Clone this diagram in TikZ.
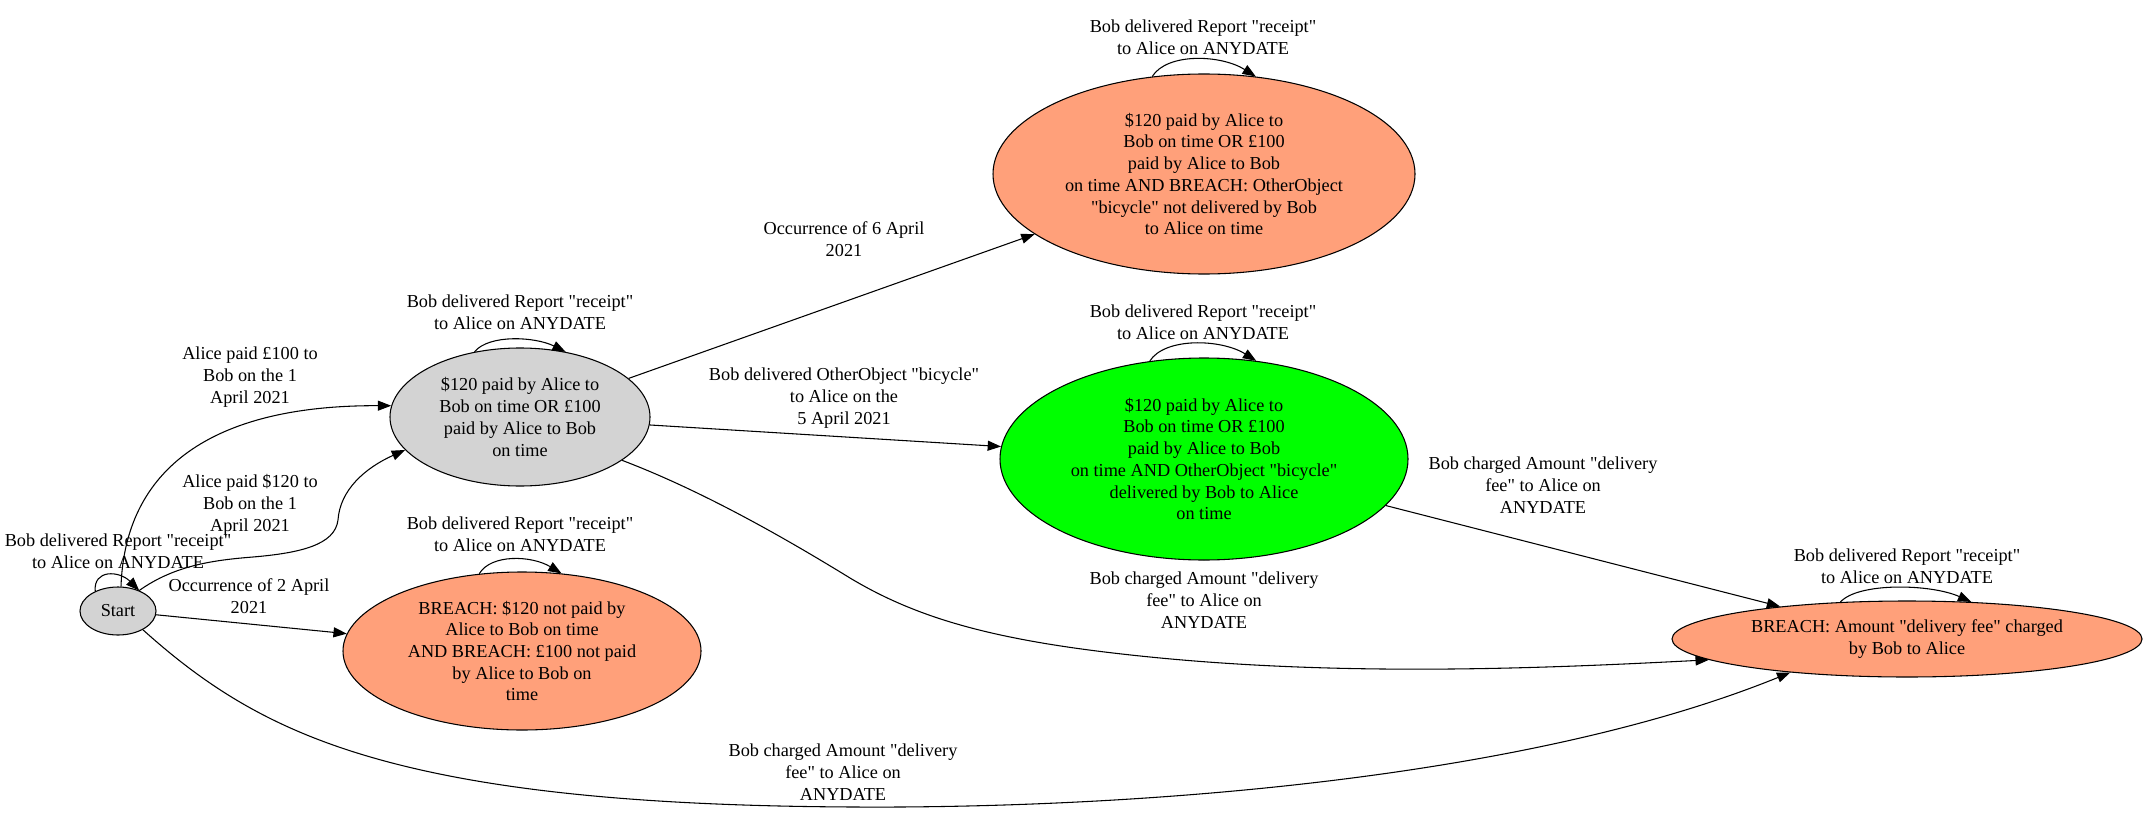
\documentclass[tikz,border=0pt]{standalone}
\usepackage{fontspec}
\setmainfont{Liberation Serif}
\newfontfamily\gvfont{Liberation Serif}
\usetikzlibrary{arrows.meta,shapes.geometric}
\definecolor{stgray}{HTML}{D3D3D3}
\definecolor{stsalmon}{HTML}{FFA07A}
\definecolor{stgreen}{HTML}{00FF00}
\begin{document}
\begin{tikzpicture}[x=0.75pt,y=-0.75pt,
  every node/.style={font=\gvfont\fontsize{13.7}{16.3}\selectfont, align=center, inner sep=0pt},
  st/.style={ellipse, draw=black, line width=0.8pt, inner sep=0pt},
  lbl/.style={},
  edge/.style={draw=black, line width=0.8pt, -{Triangle[length=10pt,width=7.5pt]}},
]
\useasboundingbox (0,0) rectangle (2147,813);

% states
\node[st, fill=stgray, minimum width=57pt, minimum height=36pt] (start) at (118,611) {Start};
\node[st, fill=stgray, minimum width=195pt, minimum height=103.5pt] (n1) at (520,417)
  {\$120 paid by Alice to\\Bob on time OR £100\\paid by Alice to Bob\\on time};
\node[st, fill=stsalmon, minimum width=316.5pt, minimum height=150pt] (n2) at (1204,174)
  {\$120 paid by Alice to\\Bob on time OR £100\\paid by Alice to Bob\\on time AND BREACH: OtherObject\\"bicycle" not delivered by Bob\\to Alice on time};
\node[st, fill=stgreen, minimum width=306pt, minimum height=151.5pt] (n3) at (1204,459)
  {\$120 paid by Alice to\\Bob on time OR £100\\paid by Alice to Bob\\on time AND OtherObject "bicycle"\\delivered by Bob to Alice\\on time};
\node[st, fill=stsalmon, minimum width=268.5pt, minimum height=118.5pt] (n4) at (522,651)
  {BREACH: \$120 not paid by\\Alice to Bob on time\\AND BREACH: £100 not paid\\by Alice to Bob on\\time};
\node[st, fill=stsalmon, minimum width=352.5pt, minimum height=57pt] (n5) at (1907,639)
  {BREACH: Amount "delivery fee" charged\\by Bob to Alice};

% labels
\node[lbl] (l0) at (118,551) {Bob delivered Report "receipt"\\to Alice on ANYDATE};
\node[lbl] (l1) at (250,377) {Alice paid £100 to\\Bob on the 1\\April 2021};
\node[lbl] (l2) at (250,505) {Alice paid \$120 to\\Bob on the 1\\April 2021};
\node[lbl] (l3) at (249,596) {Occurrence of 2 April\\2021};
\node[lbl] (l4) at (520,312) {Bob delivered Report "receipt"\\to Alice on ANYDATE};
\node[lbl] (l5) at (520,534) {Bob delivered Report "receipt"\\to Alice on ANYDATE};
\node[lbl] (l6) at (1203,37) {Bob delivered Report "receipt"\\to Alice on ANYDATE};
\node[lbl] (l7) at (1203,322) {Bob delivered Report "receipt"\\to Alice on ANYDATE};
\node[lbl] (l8) at (1907,566) {Bob delivered Report "receipt"\\to Alice on ANYDATE};
\node[lbl] (l9) at (844,239) {Occurrence of 6 April\\2021};
\node[lbl] (l10) at (844,398) {Bob delivered OtherObject "bicycle"\\to Alice on the\\5 April 2021};
\node[lbl] (l11) at (1204,600) {Bob charged Amount "delivery\\fee" to Alice on\\ANYDATE};
\node[lbl] (l12) at (1543,485) {Bob charged Amount "delivery\\fee" to Alice on\\ANYDATE};
\node[lbl] (l13) at (843,772) {Bob charged Amount "delivery\\fee" to Alice on\\ANYDATE};

% edges
\draw[edge] (start.83) .. controls (125,470) and (210,405) .. (n1.175);
\draw[edge] (start.44) .. controls (175,565) and (215,560) .. (253,557)
  .. controls (300,553) and (335,545) .. (338,520)
  .. controls (340,490) and (365,468) .. (n1.196);
\draw[edge] (start) -- (n4);
\draw[edge] (start.-37) .. controls (210,690) and (280,735) .. (400,765)
  .. controls (520,795) and (680,808) .. (900,807)
  .. controls (1200,805) and (1550,770) .. (n5.196);
\draw[edge] (n1) -- (n2);
\draw[edge] (n1) -- (n3);
\draw[edge] (n1.-23) .. controls (700,490) and (780,535) .. (850,578)
  .. controls (920,620) and (1000,642) .. (1150,657)
  .. controls (1350,677) and (1550,668) .. (n5.186);
\draw[edge] (n3) -- (n5);

% self loops
\draw[edge] (start.139) .. controls +(-2,-22) and +(-20,-20) .. (start.44);
\draw[edge] (n1.125) .. controls +(15,-18) and +(-30,-15) .. (n1.55);
\draw[edge] (n2.118) .. controls +(15,-24) and +(-35,-22) .. (n2.62);
\draw[edge] (n3.119) .. controls +(15,-24) and +(-35,-22) .. (n3.62);
\draw[edge] (n4.119) .. controls +(12,-20) and +(-30,-18) .. (n4.63);
\draw[edge] (n5.151) .. controls +(18,-20) and +(-40,-18) .. (n5.30);
\end{tikzpicture}
\end{document}
